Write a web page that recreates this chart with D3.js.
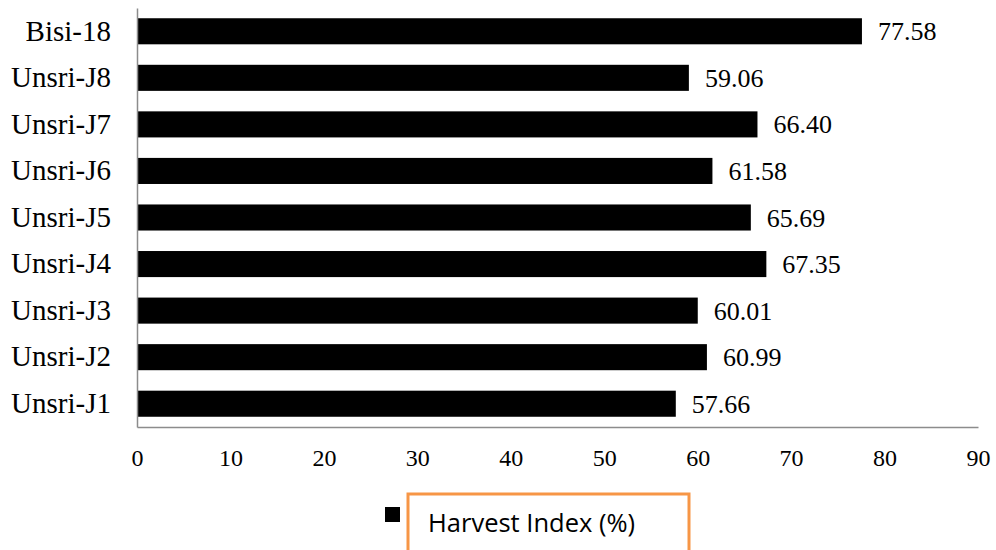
<!DOCTYPE html>
<html>
<head>
<meta charset="utf-8">
<script src="https://cdn.jsdelivr.net/npm/d3@7"></script>
<style>
  html, body { margin: 0; padding: 0; background: #fff; }
  svg { display: block; }
</style>
</head>
<body>
<svg id="chart" width="996" height="550"></svg>
<script>
// Harvest index per genotype (top to bottom as drawn)
const categories = ["Bisi-18", "Unsri-J8", "Unsri-J7", "Unsri-J6", "Unsri-J5", "Unsri-J4", "Unsri-J3", "Unsri-J2", "Unsri-J1"];
const harvestIndex = [77.58, 59.06, 66.40, 61.58, 65.69, 67.35, 60.01, 60.99, 57.66];
const xTicks = [0, 10, 20, 30, 40, 50, 60, 70, 80, 90];
const seriesName = "Harvest Index (%)";

const svg = d3.select("#chart");
const margin = { left: 137, right: 18, top: 8, bottom: 123 };
const W = 996, H = 550;

const x = d3.scaleLinear().domain([0, 90]).range([margin.left, W - margin.right]);
const y = d3.scaleBand().domain(categories).range([margin.top, H - margin.bottom]).paddingInner(0.44).paddingOuter(0.22);

const serif = "'Liberation Serif', 'Times New Roman', serif";

// bars
svg.append("g").selectAll("rect")
  .data(categories.map((c, i) => ({ c, v: harvestIndex[i] })))
  .join("rect")
  .attr("x", x(0))
  .attr("y", d => y(d.c))
  .attr("width", d => x(d.v) - x(0))
  .attr("height", y.bandwidth())
  .attr("fill", "#000");

// value labels
svg.append("g").selectAll("text")
  .data(categories.map((c, i) => ({ c, v: harvestIndex[i] })))
  .join("text")
  .attr("x", d => x(d.v) + 16)
  .attr("y", d => y(d.c) + y.bandwidth() / 2)
  .attr("dy", "0.35em")
  .attr("font-family", serif)
  .attr("font-size", 26)
  .attr("fill", "#000")
  .text(d => d.v.toFixed(2));

// y axis
const yAxis = svg.append("g")
  .attr("transform", `translate(${x(0)},0)`)
  .call(d3.axisLeft(y).tickSize(0).tickPadding(26));
yAxis.select(".domain").attr("stroke", "#8c8c8c").attr("stroke-width", 1.5);
yAxis.selectAll("text").attr("font-family", serif).attr("font-size", 29).attr("fill", "#000");

// x axis
const xAxis = svg.append("g")
  .attr("transform", `translate(0,${H - margin.bottom})`)
  .call(d3.axisBottom(x).tickValues(xTicks).tickSize(0).tickPadding(22).tickFormat(d3.format("d")));
xAxis.select(".domain").attr("stroke", "#8c8c8c").attr("stroke-width", 1.5);
xAxis.selectAll("text").attr("font-family", serif).attr("font-size", 24).attr("fill", "#000");

// legend
const lg = svg.append("g");
lg.append("rect").attr("x", 385).attr("y", 507).attr("width", 15).attr("height", 15).attr("fill", "#000");
lg.append("rect").attr("x", 408).attr("y", 494).attr("width", 281).attr("height", 70)
  .attr("fill", "none").attr("stroke", "#F79646").attr("stroke-width", 3);
lg.append("text").attr("x", 428).attr("y", 532)
  .attr("font-family", "'Open Sans', 'Liberation Sans', sans-serif")
  .attr("font-size", 25.5).attr("fill", "#000")
  .text(seriesName);
</script>
</body>
</html>
